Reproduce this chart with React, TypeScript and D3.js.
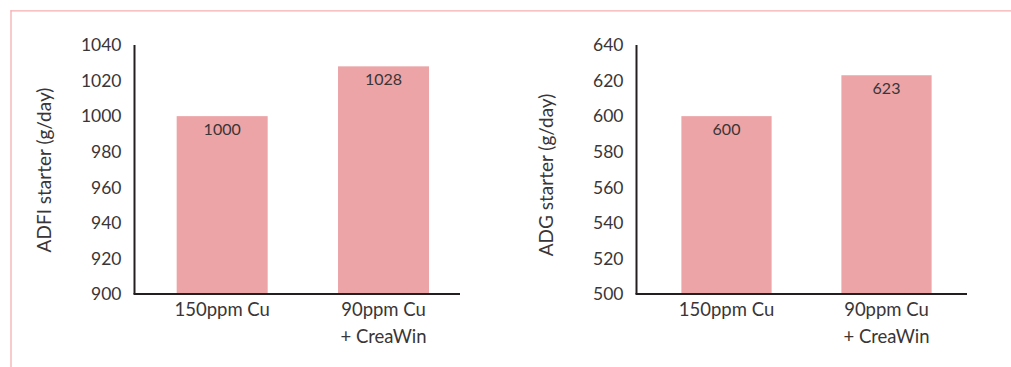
import React from "react";
import * as d3 from "d3";

// Treatments shown on both panels
const categories: string[][] = [["150ppm Cu"], ["90ppm Cu", "+ CreaWin"]];

// Average daily feed intake, starter phase (g/day)
const adfiValues = [1000, 1028];
const adfiTicks = [900, 920, 940, 960, 980, 1000, 1020, 1040];

// Average daily gain, starter phase (g/day)
const adgValues = [600, 623];
const adgTicks = [500, 520, 540, 560, 580, 600, 620, 640];

const W = 1011;
const H = 367;
const BAR = "#eca4a7";
const AXIS = "#231f20";
const TEXT = "#3a3536";
const FRAME = "#f6aeb0";
const FONT = "Lato, 'Open Sans', sans-serif";

type PanelProps = {
  title: string;
  values: number[];
  ticks: number[];
  axisX: number;
  axisEnd: number;
  bandStart: number;
  bandEnd: number;
  titleX: number;
  titleY: number;
};

function Panel({ title, values, ticks, axisX, axisEnd, bandStart, bandEnd, titleX, titleY }: PanelProps) {
  const top = 45;
  const bottom = 294;
  const y = d3
    .scaleLinear()
    .domain([ticks[0], ticks[ticks.length - 1]])
    .range([bottom, top]);
  const x = d3
    .scaleBand<number>()
    .domain(values.map((_, i) => i))
    .range([bandStart, bandEnd])
    .paddingInner(0.436)
    .paddingOuter(0.218);

  return (
    <g fontFamily={FONT} fill={TEXT}>
      {values.map((v, i) => (
        <g key={i}>
          <rect
            x={x(i)}
            y={y(v)}
            width={x.bandwidth()}
            height={bottom - y(v)}
            fill={BAR}
          />
          <text
            x={(x(i) as number) + x.bandwidth() / 2}
            y={y(v) + 19}
            textAnchor="middle"
            fontSize={16}
          >
            {v}
          </text>
          {categories[i].map((line, j) => (
            <text
              key={j}
              x={(x(i) as number) + x.bandwidth() / 2}
              y={316 + j * 27}
              textAnchor="middle"
              fontSize={18.5}
            >
              {line}
            </text>
          ))}
        </g>
      ))}
      {ticks.map((t) => (
        <text
          key={t}
          x={axisX - 13}
          y={y(t)}
          dy="0.36em"
          textAnchor="end"
          fontSize={17.5}
        >
          {t}
        </text>
      ))}
      <line x1={axisX} x2={axisX} y1={top} y2={bottom} stroke={AXIS} strokeWidth={2} />
      <line x1={axisX - 1} x2={axisEnd} y1={bottom} y2={bottom} stroke={AXIS} strokeWidth={2} />
      <text
        transform={`translate(${titleX},${titleY}) rotate(-90)`}
        textAnchor="middle"
        dy="0.35em"
        fontSize={19}
      >
        {title}
      </text>
    </g>
  );
}

export default function App() {
  return (
    <svg
      width={W}
      height={H}
      style={{ position: "absolute", left: 0, top: 0, background: "#fff" }}
    >
      <rect x={0} y={0} width={W} height={H} fill="#fff" />
      <line x1={10.5} x2={W} y1={10.8} y2={10.8} stroke={FRAME} strokeWidth={1.3} />
      <line x1={11} x2={11} y1={10.2} y2={H} stroke={FRAME} strokeWidth={1.3} />
      <Panel
        title="ADFI starter (g/day)"
        values={adfiValues}
        ticks={adfiTicks}
        axisX={134.5}
        axisEnd={460}
        bandStart={141.5}
        bandEnd={464.2}
        titleX={44}
        titleY={170}
      />
      <Panel
        title="ADG starter (g/day)"
        values={adgValues}
        ticks={adgTicks}
        axisX={636.5}
        axisEnd={967}
        bandStart={646.5}
        bandEnd={966.5}
        titleX={546}
        titleY={175}
      />
    </svg>
  );
}
